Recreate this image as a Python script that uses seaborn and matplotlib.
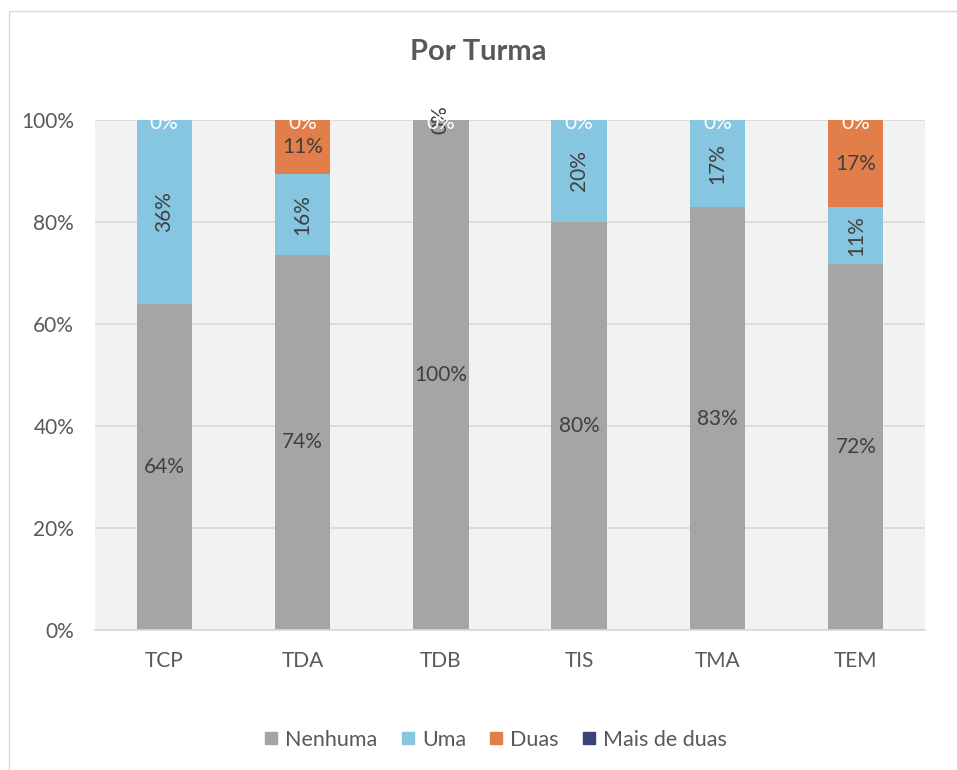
import matplotlib
matplotlib.use("Agg")
import matplotlib.pyplot as plt
import seaborn as sns
import numpy as np
import pandas as pd
from matplotlib.patches import Rectangle
from matplotlib.lines import Line2D

categories = ["TCP", "TDA", "TDB", "TIS", "TMA", "TEM"]
series_names = ["Nenhuma", "Uma", "Duas", "Mais de duas"]
nenhuma = [64.0, 73.7, 100.0, 80.0, 82.9, 71.8]
uma = [36.0, 15.8, 0.0, 20.0, 17.1, 11.1]
duas = [0.0, 10.6, 0.0, 0.0, 0.0, 17.1]
mais_de_duas = [0.0, 0.0, 0.0, 0.0, 0.0, 0.0]
y_ticks = [0, 20, 40, 60, 80, 100]
y_tick_labels = ["0%", "20%", "40%", "60%", "80%", "100%"]

colors = ["#A5A5A5", "#86C6E0", "#E17E4A", "#3B4479"]

sns.set_theme(style="white")
plt.rcParams['font.family'] = ['Lato', 'DejaVu Sans']

fig = plt.figure(figsize=(9.57, 7.70), dpi=100)
ax = fig.add_axes([95/957, 1-630/770, (925-95)/957, 510/770])
ax.set_facecolor("#F2F2F2")

# chart border
fig.patches.append(Rectangle((9/957, -0.1), 1.2, 1-11/770+0.1, transform=fig.transFigure,
                             fill=False, edgecolor="#D9D9D9", linewidth=1.0, zorder=0))

vals = np.array([nenhuma, uma, duas, mais_de_duas])
tot = vals.sum(axis=0)
pct = vals / tot * 100
cum = np.cumsum(pct, axis=0)

df = pd.DataFrame({"cat": categories})
for i in range(3, -1, -1):
    df["v"] = cum[i]
    sns.barplot(data=df, x="cat", y="v", color=colors[i], width=0.4, ax=ax,
                saturation=1, linewidth=0, zorder=2)

ax.set_ylim(0, 100)
ax.set_xlim(-0.5, len(categories) - 0.5)
ax.set_yticks(y_ticks)
ax.set_yticklabels(y_tick_labels)
ax.yaxis.grid(True, color="#D9D9D9", linewidth=1.2, zorder=0)
ax.set_axisbelow(True)
for s in ["top", "right", "left"]:
    ax.spines[s].set_visible(False)
ax.spines["bottom"].set_color("#D9D9D9")
ax.spines["bottom"].set_linewidth(1.2)
ax.tick_params(axis="both", length=0, labelsize=15, colors="#595959")
ax.tick_params(axis="y", pad=15)
ax.tick_params(axis="x", pad=15)
ax.set_xlabel("")
ax.set_ylabel("")

lab_color = "#404040"
fs = 15
for j in range(len(categories)):
    base = 0
    for i in range(4):
        h = pct[i, j]
        c = base + h / 2
        txt = f"{int(vals[i, j] + 0.5)}%"
        if i == 0 and h > 0:
            ax.text(j, c, txt, ha="center", va="center", fontsize=fs, color=lab_color, zorder=5)
        elif i == 1:
            if h > 0 or categories[j] == "TDB":
                ax.text(j, c, txt, ha="center", va="center", fontsize=fs, color=lab_color,
                        rotation=90, zorder=5)
        elif i == 2 and h > 0:
            ax.text(j, c, txt, ha="center", va="center", fontsize=fs, color=lab_color, zorder=5)
        elif i == 3:
            ax.text(j, c - 0.5, txt, ha="center", va="center", fontsize=fs, color="white", zorder=6)
        base += h

fig.text(0.5, 1-52/770, "Por Turma", ha="center", va="center", fontsize=21,
         fontweight="bold", color="#595959")

handles = [Line2D([0], [0], marker="s", linestyle="", markersize=8,
                  markerfacecolor=colors[i], markeredgecolor=colors[i]) for i in range(4)]
fig.legend(handles, series_names, loc="center", bbox_to_anchor=(0.518, 1-740/770),
           ncol=4, frameon=False, fontsize=15.5, handlelength=0.6, handletextpad=0.35,
           columnspacing=1.1, labelcolor="#595959")

fig.savefig("out.png", dpi=100, facecolor="white")
